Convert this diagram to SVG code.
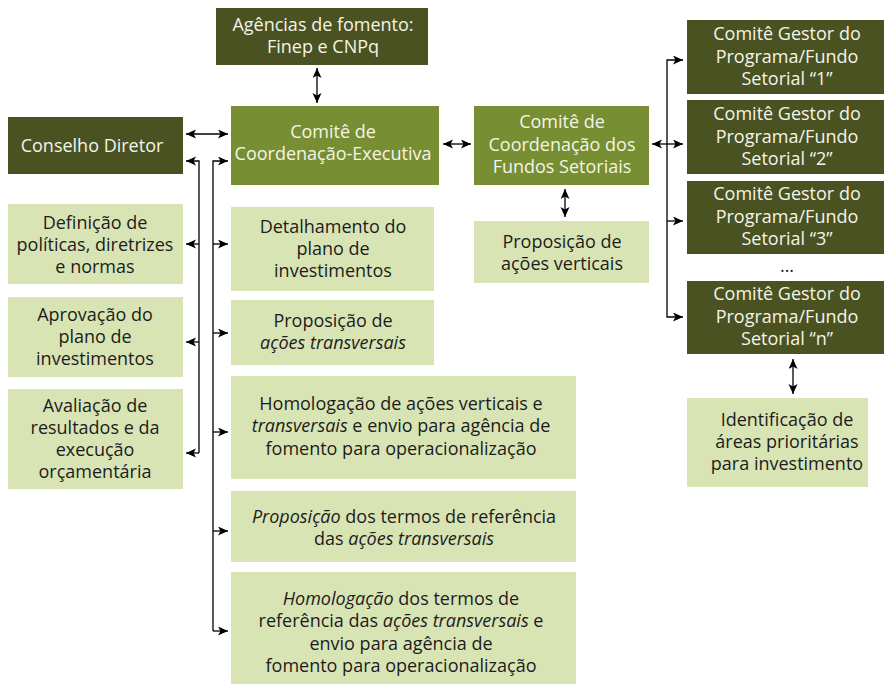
<svg xmlns="http://www.w3.org/2000/svg" width="884" height="685" viewBox="0 0 884 685">
<style>
text{font-family:"Open Sans","Noto Sans","Liberation Sans",sans-serif;font-size:18px;text-anchor:middle}
.dark{fill:#4a5222}
.mid{fill:#778f32}
.light{fill:#d9e4b5}
.tw{fill:#f4f4e8}
.tb{fill:#1c1c1c}
.i{font-style:italic}
.c{stroke:#000;stroke-width:1.3;fill:none}
.a2{marker-start:url(#ah);marker-end:url(#ah)}
.a1{marker-end:url(#ah)}
</style>
<defs>
<marker id="ah" markerUnits="userSpaceOnUse" markerWidth="12" markerHeight="10" refX="10" refY="4.5" orient="auto-start-reverse">
<path d="M0,0 L10,4.5 L0,9 L2.5,4.5 Z" fill="#000"/>
</marker>
</defs>
<rect width="884" height="685" fill="#fff"/>

<g id="agencias">
<rect class="dark" x="216" y="8" width="212" height="57"/>
<text class="tw" x="323" y="31">Agências de fomento:</text>
<text class="tw" x="323" y="53">Finep e CNPq</text>
</g>
<g id="conselho">
<rect class="dark" x="8" y="117" width="175" height="57"/>
<text class="tw" x="92" y="152">Conselho Diretor</text>
</g>
<g id="comite-exec">
<rect class="mid" x="231" y="106" width="208" height="79"/>
<text class="tw" x="333" y="138">Comitê de</text>
<text class="tw" x="333" y="160">Coordenação-Executiva</text>
</g>
<g id="comite-fundos">
<rect class="mid" x="474" y="106" width="175" height="79"/>
<text class="tw" x="562" y="128">Comitê de</text>
<text class="tw" x="562" y="150.5">Coordenação dos</text>
<text class="tw" x="562" y="173">Fundos Setoriais</text>
</g>
<g id="gestor1">
<rect class="dark" x="687" y="20" width="197" height="74"/>
<text class="tw" x="787" y="40">Comitê Gestor do</text>
<text class="tw" x="787" y="62.5">Programa/Fundo</text>
<text class="tw" x="787" y="85">Setorial “1”</text>
</g>
<g id="gestor2">
<rect class="dark" x="687" y="100" width="197" height="74"/>
<text class="tw" x="787" y="120">Comitê Gestor do</text>
<text class="tw" x="787" y="142.5">Programa/Fundo</text>
<text class="tw" x="787" y="165">Setorial “2”</text>
</g>
<g id="gestor3">
<rect class="dark" x="687" y="181" width="197" height="73"/>
<text class="tw" x="787" y="200">Comitê Gestor do</text>
<text class="tw" x="787" y="222.5">Programa/Fundo</text>
<text class="tw" x="787" y="245">Setorial “3”</text>
</g>
<g id="reticencias">
<text class="tb" x="787" y="272">...</text>
</g>
<g id="gestorn">
<rect class="dark" x="687" y="281" width="197" height="73"/>
<text class="tw" x="787" y="300">Comitê Gestor do</text>
<text class="tw" x="787" y="322.5">Programa/Fundo</text>
<text class="tw" x="787" y="345">Setorial “n”</text>
</g>
<g id="identificacao">
<rect class="light" x="687" y="398" width="181" height="89"/>
<text class="tb" x="787" y="426">Identificação de</text>
<text class="tb" x="787" y="448">áreas prioritárias</text>
<text class="tb" x="787" y="470">para investimento</text>
</g>
<g id="proposicao-verticais">
<rect class="light" x="474" y="221" width="175" height="62"/>
<text class="tb" x="562" y="248">Proposição de</text>
<text class="tb" x="562" y="270">ações verticais</text>
</g>
<g id="definicao">
<rect class="light" x="8" y="204" width="175" height="80"/>
<text class="tb" x="95" y="229">Definição de</text>
<text class="tb" x="95" y="251">políticas, diretrizes</text>
<text class="tb" x="95" y="273">e normas</text>
</g>
<g id="aprovacao">
<rect class="light" x="8" y="297" width="175" height="80"/>
<text class="tb" x="95" y="321">Aprovação do</text>
<text class="tb" x="95" y="343">plano de</text>
<text class="tb" x="95" y="365">investimentos</text>
</g>
<g id="avaliacao">
<rect class="light" x="8" y="389" width="175" height="100"/>
<text class="tb" x="95" y="412">Avaliação de</text>
<text class="tb" x="95" y="434">resultados e da</text>
<text class="tb" x="95" y="456">execução</text>
<text class="tb" x="95" y="478">orçamentária</text>
</g>
<g id="detalhamento">
<rect class="light" x="231" y="207" width="203" height="84"/>
<text class="tb" x="333" y="233">Detalhamento do</text>
<text class="tb" x="333" y="255">plano de</text>
<text class="tb" x="333" y="277">investimentos</text>
</g>
<g id="proposicao-transversais">
<rect class="light" x="231" y="300" width="203" height="65"/>
<text class="tb" x="333" y="327">Proposição de</text>
<text class="tb i" x="333" y="349">ações transversais</text>
</g>
<g id="homologacao-acoes">
<rect class="light" x="231" y="376" width="345" height="103"/>
<text class="tb" x="401" y="410">Homologação de ações verticais e</text>
<text class="tb" x="401" y="432"><tspan class="i">transversais</tspan> e envio para agência de</text>
<text class="tb" x="401" y="455">fomento para operacionalização</text>
</g>
<g id="proposicao-termos">
<rect class="light" x="231" y="491" width="345" height="71"/>
<text class="tb" x="404" y="523"><tspan class="i">Proposição</tspan> dos termos de referência</text>
<text class="tb" x="404" y="545">das <tspan class="i">ações transversais</tspan></text>
</g>
<g id="homologacao-termos">
<rect class="light" x="231" y="572" width="345" height="112"/>
<text class="tb" x="401" y="605"><tspan class="i">Homologação</tspan> dos termos de</text>
<text class="tb" x="401" y="627">referência das <tspan class="i">ações transversais</tspan> e</text>
<text class="tb" x="401" y="650">envio para agência de</text>
<text class="tb" x="401" y="672">fomento para operacionalização</text>
</g>

<g id="connectors">
<path class="c a2" d="M317,68 V103"/>
<path class="c a2" d="M186,134 H228"/>
<path class="c a1" d="M199,453 V161 H186"/>
<path class="c a1" d="M199,244 H186"/>
<path class="c a1" d="M199,342 H186"/>
<path class="c a1" d="M199,453 H186"/>
<path class="c a1" d="M213,631 V161 H228"/>
<path class="c a1" d="M213,244 H228"/>
<path class="c a1" d="M213,333 H228"/>
<path class="c a1" d="M213,432 H228"/>
<path class="c a1" d="M213,531 H228"/>
<path class="c a1" d="M213,631 H228"/>
<path class="c a2" d="M443,144 H471"/>
<path class="c a2" d="M652,144 H683"/>
<path class="c a1" d="M667,144 V60 H683"/>
<path class="c a1" d="M667,144 V317 H683"/>
<path class="c a1" d="M667,221 H683"/>
<path class="c a2" d="M565,189 V217"/>
<path class="c a2" d="M793,359 V394"/>
</g>
</svg>
